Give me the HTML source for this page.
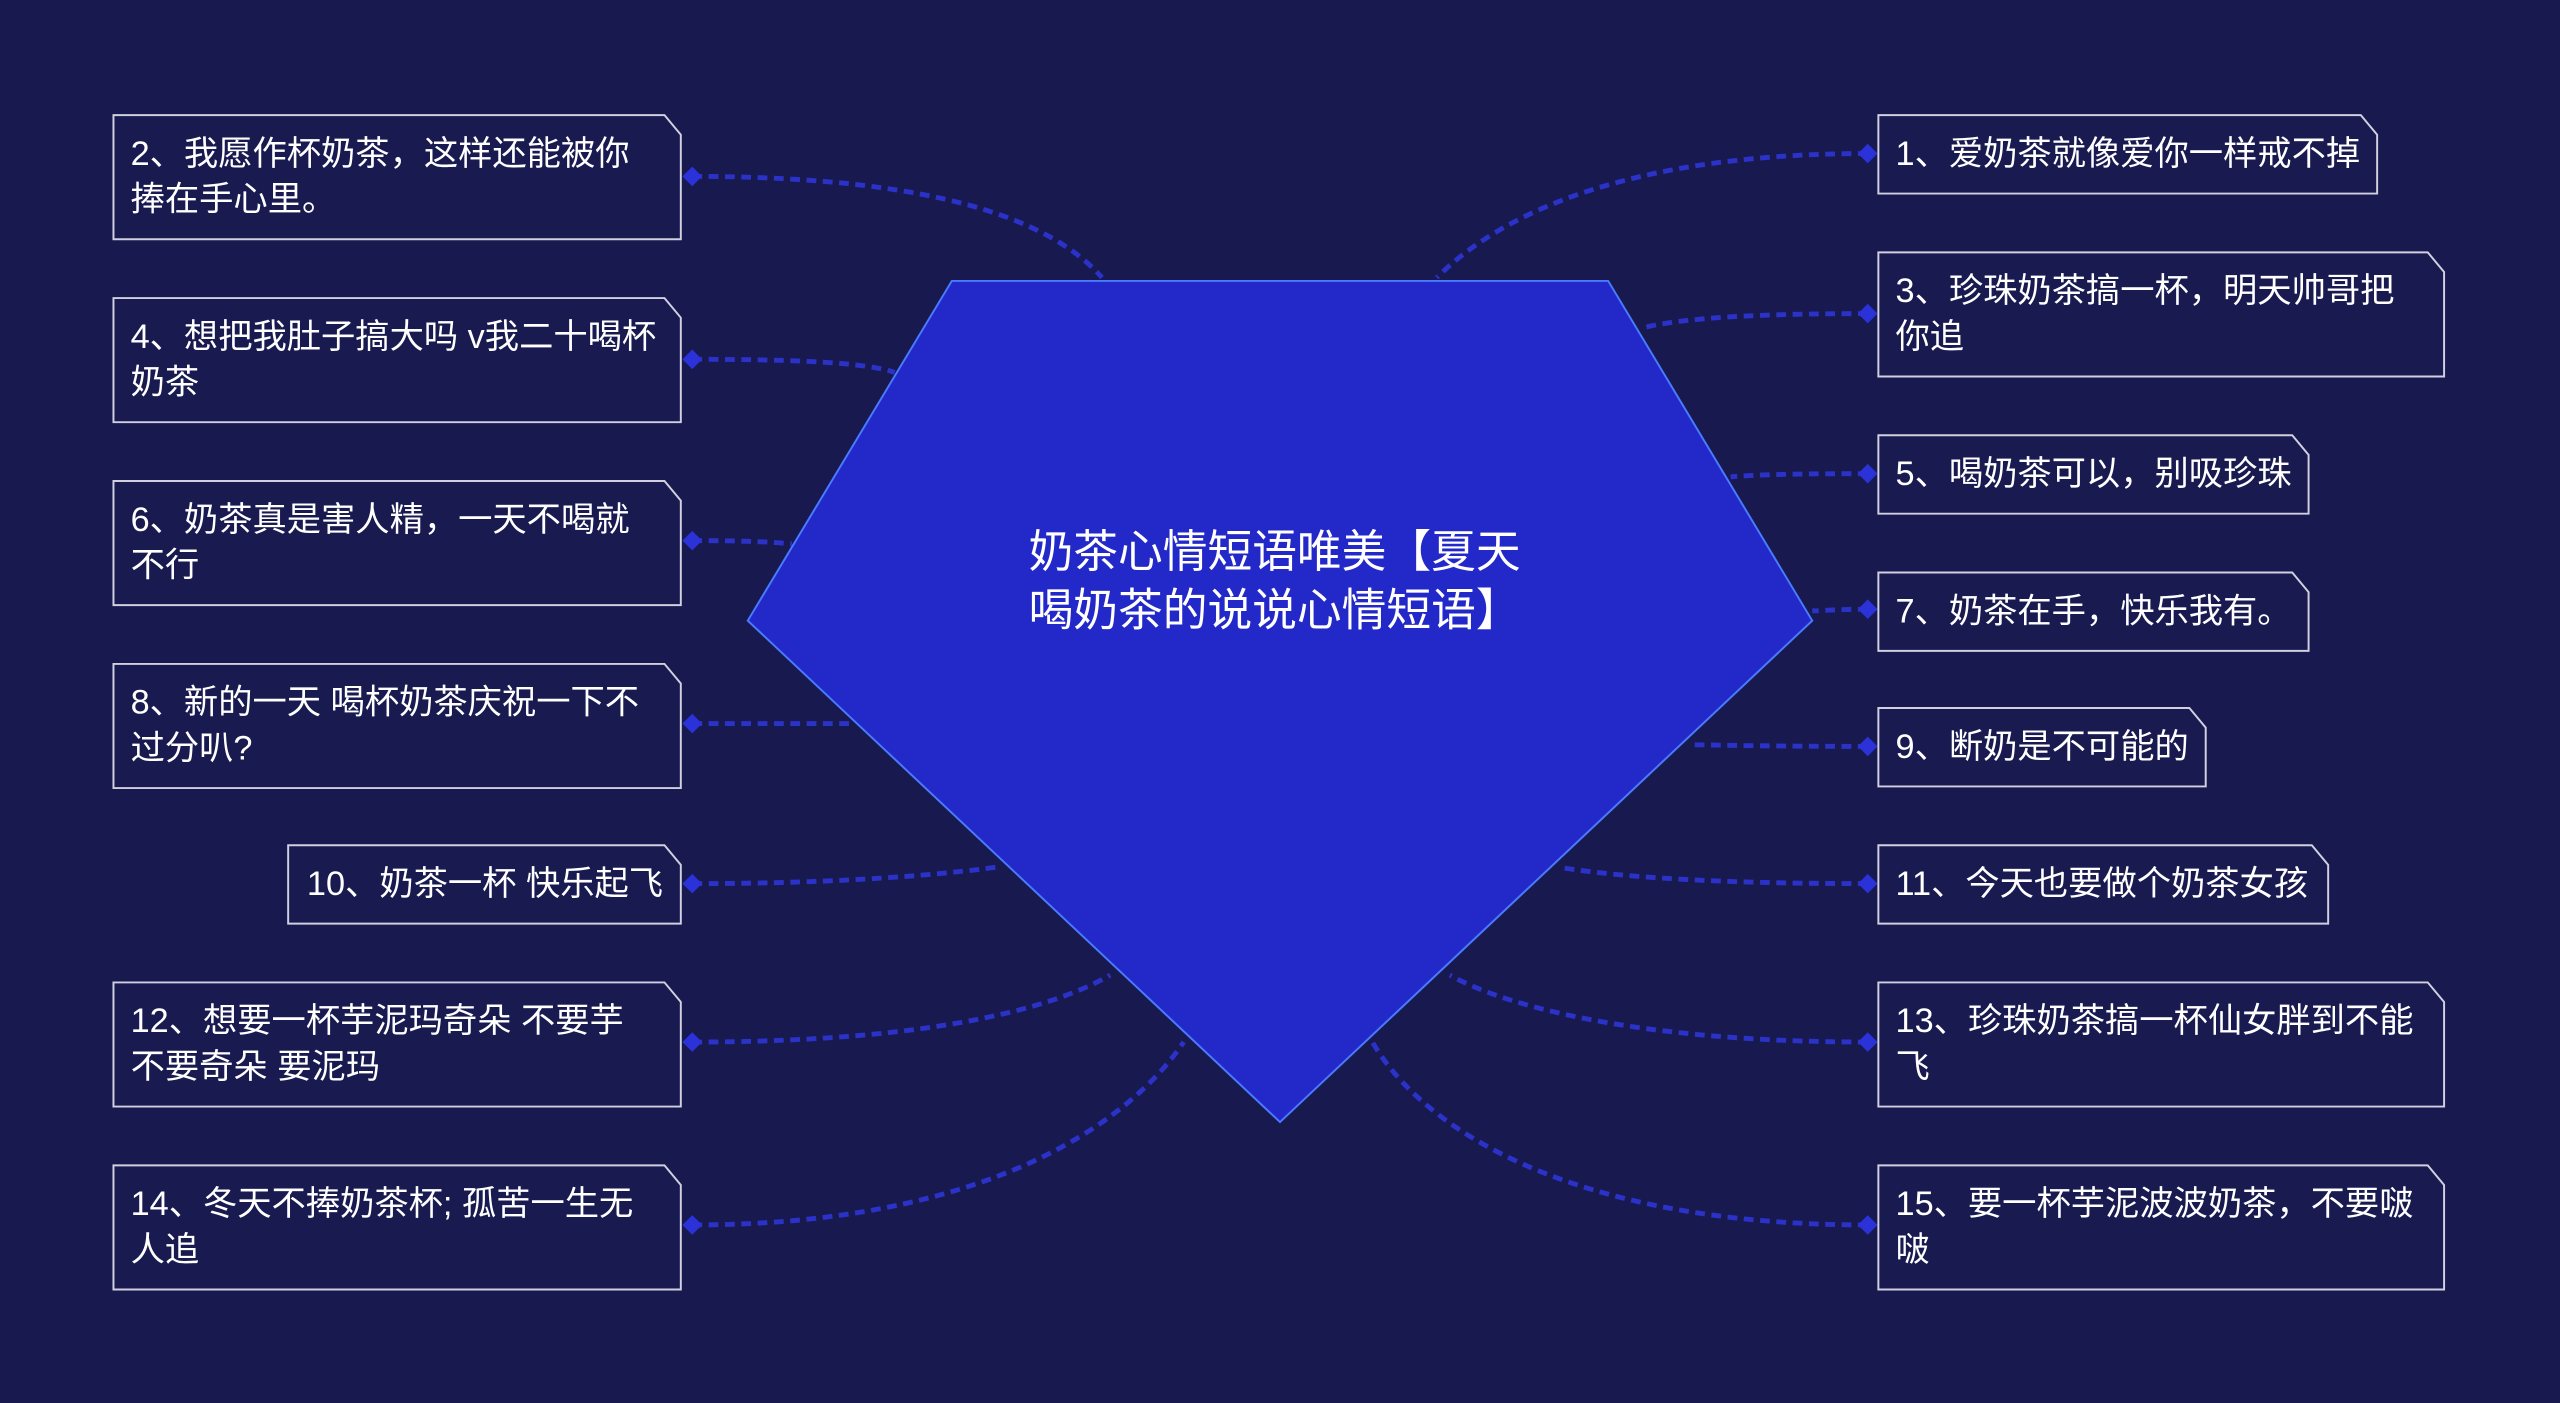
<!DOCTYPE html>
<html><head><meta charset="utf-8"><style>
html,body{margin:0;padding:0;background:#18194f;}
svg{display:block}
text{font-family:"Liberation Sans","Noto Sans CJK SC",sans-serif;fill:#fff;}
</style></head><body>
<svg width="2560" height="1403" viewBox="0 0 1568 859" preserveAspectRatio="none" xmlns="http://www.w3.org/2000/svg">
<rect width="1568" height="859" fill="#18194f"/>
<g fill="none" stroke="#2a32c8" stroke-width="3" stroke-dasharray="6 4">
<path d="M424 108 C560 108 640 130 675 170"/>
<path d="M424 220 C490 220 530 222 548 228"/>
<path d="M424 331 C460 331 475 332 485 333"/>
<path d="M424 443 C480 443 505 443 520 443"/>
<path d="M424 541 C520 541 580 535 610 531"/>
<path d="M424 638 C560 638 640 620 680 597"/>
<path d="M424 750 C600 750 690 690 725 638"/>
<path d="M1144 94 C980 94 910 140 880 170"/>
<path d="M1144 192 C1060 192 1025 196 1005 201"/>
<path d="M1144 290 C1090 290 1070 291 1060 292"/>
<path d="M1144 373 C1125 373 1115 374 1110 374"/>
<path d="M1144 457 C1080 457 1050 456 1035 456"/>
<path d="M1144 541 C1030 541 980 535 955 531"/>
<path d="M1144 638 C1000 638 920 615 888 597"/>
<path d="M1144 750 C960 750 870 690 840 637"/>
</g>
<polygon points="583,172 985,172 1110,380 784,687 458,380" fill="#2328c8" stroke="#4a7bff" stroke-width="1.2"/>
<text x="630" y="347" font-size="27.4">奶茶心情短语唯美【夏天</text>
<text x="630" y="383" font-size="27.4">喝奶茶的说说心情短语】</text>
<g fill="#2a32d8">
<path d="M418 108l6-6 6 6-6 6z"/><path d="M418 220l6-6 6 6-6 6z"/><path d="M418 331l6-6 6 6-6 6z"/><path d="M418 443l6-6 6 6-6 6z"/><path d="M418 541l6-6 6 6-6 6z"/><path d="M418 638l6-6 6 6-6 6z"/><path d="M418 750l6-6 6 6-6 6z"/>
<path d="M1138 94l6-6 6 6-6 6z"/><path d="M1138 192l6-6 6 6-6 6z"/><path d="M1138 290l6-6 6 6-6 6z"/><path d="M1138 373l6-6 6 6-6 6z"/><path d="M1138 457l6-6 6 6-6 6z"/><path d="M1138 541l6-6 6 6-6 6z"/><path d="M1138 638l6-6 6 6-6 6z"/><path d="M1138 750l6-6 6 6-6 6z"/>
</g>
<g fill="#181a50" stroke="#d0d0e0" stroke-width="1.2">
<path d="M69.5 70.5H407l10 12V146.5H69.5Z"/>
<path d="M69.5 182.5H407l10 12V258.5H69.5Z"/>
<path d="M69.5 294.5H407l10 12V370.5H69.5Z"/>
<path d="M69.5 406.5H407l10 12V482.5H69.5Z"/>
<path d="M176.5 517.5H407l10 12V565.5H176.5Z"/>
<path d="M69.5 601.5H407l10 12V677.5H69.5Z"/>
<path d="M69.5 713.5H407l10 12V789.5H69.5Z"/>
<path d="M1150.5 70.5H1446l10 12V118.5H1150.5Z"/>
<path d="M1150.5 154.5H1487l10 12V230.5H1150.5Z"/>
<path d="M1150.5 266.5H1404l10 12V314.5H1150.5Z"/>
<path d="M1150.5 350.5H1404l10 12V398.5H1150.5Z"/>
<path d="M1150.5 433.5H1341l10 12V481.5H1150.5Z"/>
<path d="M1150.5 517.5H1416l10 12V565.5H1150.5Z"/>
<path d="M1150.5 601.5H1487l10 12V677.5H1150.5Z"/>
<path d="M1150.5 713.5H1487l10 12V789.5H1150.5Z"/>
</g>
<g font-size="21">
<text x="80" y="101">2、我愿作杯奶茶，这样还能被你</text><text x="80" y="129">捧在手心里。</text>
<text x="80" y="213">4、想把我肚子搞大吗 v我二十喝杯</text><text x="80" y="241">奶茶</text>
<text x="80" y="325">6、奶茶真是害人精，一天不喝就</text><text x="80" y="353">不行</text>
<text x="80" y="437">8、新的一天 喝杯奶茶庆祝一下不</text><text x="80" y="465">过分叭?</text>
<text x="188" y="548">10、奶茶一杯 快乐起飞</text>
<text x="80" y="632">12、想要一杯芋泥玛奇朵 不要芋</text><text x="80" y="660">不要奇朵 要泥玛</text>
<text x="80" y="744">14、冬天不捧奶茶杯; 孤苦一生无</text><text x="80" y="772">人追</text>
<text x="1161" y="101">1、爱奶茶就像爱你一样戒不掉</text>
<text x="1161" y="185">3、珍珠奶茶搞一杯，明天帅哥把</text><text x="1161" y="213">你追</text>
<text x="1161" y="297">5、喝奶茶可以，别吸珍珠</text>
<text x="1161" y="381">7、奶茶在手，快乐我有。</text>
<text x="1161" y="464">9、断奶是不可能的</text>
<text x="1161" y="548">11、今天也要做个奶茶女孩</text>
<text x="1161" y="632">13、珍珠奶茶搞一杯仙女胖到不能</text><text x="1161" y="660">飞</text>
<text x="1161" y="744">15、要一杯芋泥波波奶茶，不要啵</text><text x="1161" y="772">啵</text>
</g>
</svg>
</body></html>
